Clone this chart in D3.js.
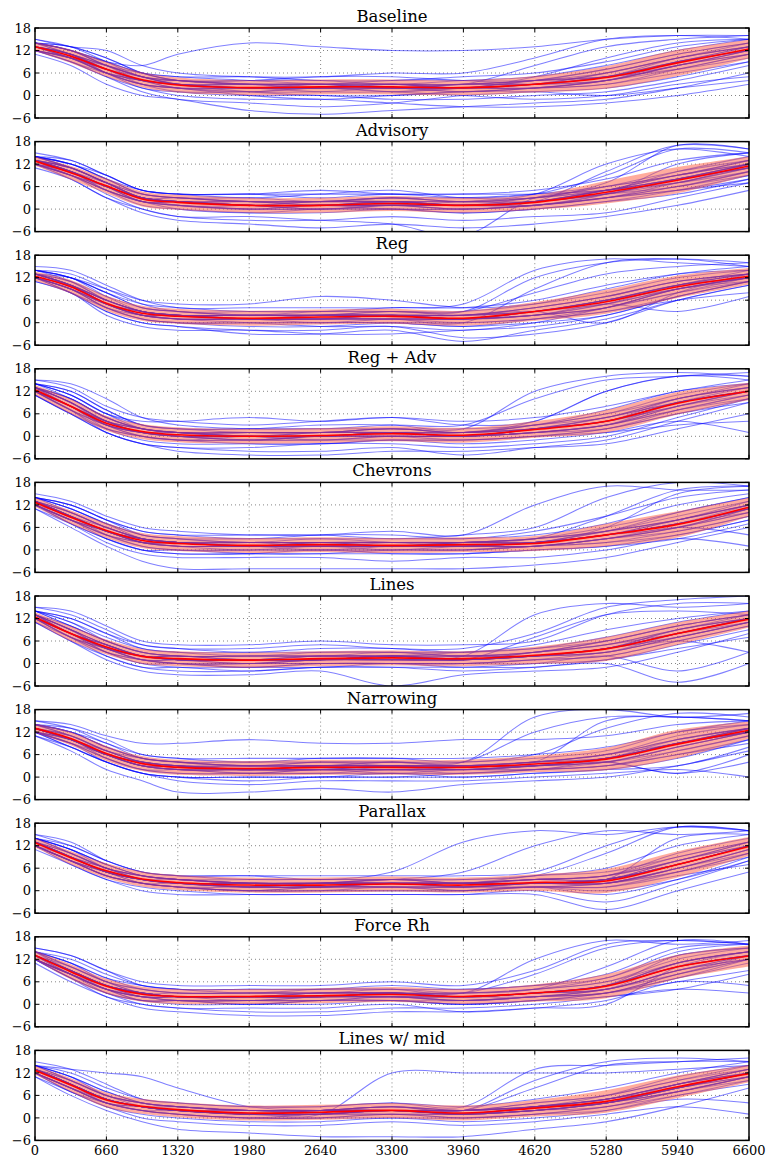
<!DOCTYPE html>
<html><head><meta charset="utf-8">
<script src="https://cdn.jsdelivr.net/npm/d3@7"></script>
<style>body{margin:0;background:#fff}</style>
</head><body>
<svg id="chart" width="767" height="1158"></svg>
<script>
// ---------- data ----------
const panelTitles = ["Baseline","Advisory","Reg","Reg + Adv","Chevrons","Lines","Narrowing","Parallax","Force Rh","Lines w/ mid"];
const xTicks = [0,660,1320,1980,2640,3300,3960,4620,5280,5940,6600];
const yTicks = [-6,0,6,12,18];
const sampleX = [0,330,660,990,1320,1980,2640,3300,3960,4620,5280,5940,6600];

const baselineMean = [13,10.5,7,4.2,2.8,2.1,2.3,2.3,2.1,3,4.8,8.7,12.4];
const baselineStd  = [1.2,1.8,2,2,2,2,2,2,2,2.2,3,3.5,2.5];
const baselineRuns = [
[13,11,7,4,3,2,2,2,2,3,5,9,12],[14,12,8,5,3,3,3,2,3,4,6,10,13],[12,10,6,3,2,1,1,2,1,2,4,8,12],
[14,13,10,6,4,3,3,3,3,4,7,11,14],[13,11,6,3,2,2,1,1,2,2,3,7,11],[14,12,9,8,11,14,13,12,12,13,15,16,16],
[12,9,5,1,-1,-2,-3,-2,0,1,2,5,9],[11,8,3,0,-1,-4,-5,-4,-3,-2,-1,2,6],[14,12,9,6,5,5,4,4,5,6,9,13,15],
[13,11,7,3,1,0,0,-1,-1,0,1,4,8],[15,13,9,5,4,4,4,3,4,5,8,12,15],[13,10,6,4,3,2,2,3,2,5,10,14,15],
[12,10,6,2,1,1,2,1,0,-1,0,3,5],[14,12,8,5,4,3,2,3,3,8,13,15,16],[13,11,8,5,4,3,3,4,4,3,4,8,11],
[12,10,6,3,2,0,-1,0,1,1,0,2,4],[14,12,9,6,4,4,5,5,4,4,5,9,13],[13,11,8,6,5,4,3,2,2,3,6,10,14],
[12,9,5,2,0,-1,-1,-2,-3,-3,-2,0,3],[14,13,10,6,4,3,3,3,3,4,5,7,10],
[13,11,7,4,3,3,3,3,2,3,4,8,12],[14,11,8,5,3,2,2,2,3,3,5,9,13],[12,10,7,4,2,2,3,2,2,2,4,8,11],
[13,10,6,4,3,2,2,2,2,3,6,10,13],[14,12,8,4,3,2,3,3,2,3,5,9,12],[13,10,7,5,3,3,2,2,2,4,5,8,12],
[12,9,6,4,2,1,2,2,1,2,4,7,11],[14,11,7,4,4,3,3,2,3,3,5,10,13],[15,13,12,8,6,5,5,6,6,10,15,16,15],
[13,11,6,3,2,2,2,3,2,2,3,6,9],[13,10,7,4,3,2,2,1,2,4,7,11,14],[12,10,8,5,3,1,0,0,1,2,4,9,12]];

const advisoryMean = [12.8,9.7,6.2,2.7,1.8,1,1,1.5,1,1.8,4.5,7.7,11.5];
const advisoryStd  = [1.2,1.8,2,2,2,2,2,2,2,2,3,3.5,2.5];
const advisoryRuns = [
[13,10,6,3,2,1,1,2,1,2,5,8,12],[14,12,8,4,3,2,2,3,2,3,6,10,13],[12,9,5,2,1,0,0,1,0,1,3,6,10],
[14,13,9,5,4,4,3,4,3,4,9,16,15],[13,10,5,1,0,-1,-1,0,-1,0,2,5,9],[11,8,3,0,-2,-3,-3,-2,-3,-2,-1,3,7],
[14,12,8,5,4,3,4,5,3,3,7,17,16],[13,11,7,3,3,2,2,2,2,2,4,8,12],[12,8,3,-1,-3,-4,-5,-4,-5,-4,-2,1,5],
[15,13,9,5,4,4,4,4,4,5,8,13,15],[13,10,6,3,2,1,2,2,1,3,5,8,11],[14,11,7,3,2,2,1,1,2,4,12,16,14],
[12,10,6,2,1,0,0,0,-1,0,2,4,8],[13,11,7,4,3,3,2,3,3,4,6,9,13],[12,9,4,0,-2,-2,-3,-4,-7,3,5,8,11],
[14,12,8,4,3,2,2,3,2,3,5,10,14],[13,10,6,3,2,1,0,1,1,1,3,6,9],[14,12,9,5,4,4,5,4,4,4,5,7,12],
[12,9,5,2,1,0,1,0,0,1,4,12,15],[13,11,7,3,2,1,1,1,0,1,3,5,7],
[13,10,6,3,2,1,1,1,1,2,4,8,11],[13,10,6,3,2,2,1,2,1,2,5,8,12],[14,11,7,3,2,1,1,2,1,2,4,7,11],
[12,9,6,2,2,1,1,1,1,1,4,8,12],[13,9,6,3,1,1,2,2,1,2,5,9,12],[13,10,7,4,3,2,2,2,2,2,5,7,10],
[12,9,5,2,1,0,1,1,0,1,3,7,11],[14,11,7,3,2,2,2,3,2,3,6,9,13],[13,10,6,3,2,1,1,2,1,2,10,17,16],
[12,10,6,2,2,1,0,1,1,2,4,6,10],[13,11,7,3,2,1,1,1,1,2,5,9,12],[13,10,5,2,0,-1,0,0,0,1,3,5,8]];

const regMean = [12.4,9.6,5.2,2.5,1.7,1.2,1.5,1.7,1.2,3,5.6,9.6,12.4];
const regStd  = [1.2,1.8,2,2,2,2,2,2,2,2.5,3.2,3,2.2];
const regRuns = [
[13,10,6,3,2,1,1,2,1,3,6,10,12],[14,12,8,4,3,2,2,3,2,4,7,11,13],[12,9,4,1,0,0,0,0,-1,1,4,9,12],
[13,12,9,6,5,5,7,6,4,5,8,12,14],[11,8,3,0,-1,-2,-2,-1,-4,-3,0,6,10],[14,12,7,3,2,2,2,3,3,12,16,17,16],
[13,10,5,2,1,0,-1,-1,-2,0,4,8,11],[15,14,10,6,4,4,4,4,5,14,17,16,15],[12,9,4,1,0,-1,-1,0,0,1,3,6,8],
[13,11,6,3,2,2,2,2,2,4,7,11,13],[12,8,3,0,-1,-3,-3,-2,-5,-2,1,6,10],[14,12,8,4,3,2,3,3,3,5,9,13,15],
[13,10,5,2,2,1,1,1,1,2,5,3,7],[14,13,9,5,3,3,3,3,3,8,13,15,16],[12,9,5,2,1,1,1,1,0,1,3,7,11],
[13,11,7,4,3,2,2,2,2,3,6,10,14],[11,8,2,-1,-2,-2,-3,-3,-2,-1,2,7,11],[14,12,8,5,4,3,3,4,4,6,10,13,14],
[13,10,5,2,1,1,0,1,1,2,4,9,12],[12,10,6,3,2,2,2,2,2,3,0,8,13],
[12,10,5,2,2,1,1,2,1,3,5,9,12],[13,10,5,3,2,1,2,2,1,3,6,10,13],[12,9,5,2,1,1,1,1,1,2,5,9,12],
[13,10,6,3,2,2,2,2,2,3,6,10,12],[12,9,5,3,2,1,1,2,1,2,5,10,13],[13,10,5,2,1,1,1,1,1,3,6,9,12],
[12,9,4,2,1,1,2,2,1,2,4,8,12],[14,11,6,3,2,2,2,2,2,4,7,11,13],[13,10,6,3,2,1,1,1,0,9,16,17,15],
[12,9,5,2,2,1,1,1,1,2,4,9,11],[13,10,6,3,2,2,2,2,2,3,6,10,13],[12,8,4,1,0,0,0,0,-1,0,2,7,11]];

const regAdvMean = [12.4,8,3.5,1.3,0.4,0,0.2,0.7,0.3,1.8,4,8.8,12];
const regAdvStd  = [1.3,2,2,2,2,2,2,2,2,2.2,3,3,2.3];
const regAdvRuns = [
[13,9,4,1,0,0,0,1,0,2,4,9,12],[14,11,6,3,2,1,1,2,1,3,6,11,14],[12,7,2,0,-1,-1,-1,-1,-1,0,2,7,11],
[15,13,8,5,4,3,4,5,3,4,12,16,15],[11,6,1,-2,-3,-4,-4,-3,-5,-3,-1,4,9],[14,12,7,3,2,2,3,3,2,12,16,17,16],
[13,9,4,1,0,-1,-1,0,0,1,3,8,12],[12,8,3,0,-1,-1,0,0,-1,0,1,3,4],[14,11,6,2,1,1,1,2,1,3,7,12,14],
[12,7,1,-2,-4,-5,-5,-4,-4,-3,-2,2,6],[13,10,5,2,1,1,1,1,1,2,5,10,13],[15,14,10,5,3,2,2,3,3,10,15,16,17],
[13,9,3,0,-1,0,0,0,0,1,3,7,10],[14,12,7,3,2,2,2,2,2,3,6,10,14],[12,8,2,-1,-2,-2,-2,-1,-2,-1,1,4,1],
[13,10,5,2,1,1,1,2,1,2,4,9,12],[14,11,6,4,4,5,4,5,4,5,8,12,15],[12,8,3,1,0,-1,0,0,0,1,2,6,9],
[13,10,5,2,1,0,0,1,0,2,5,9,12],[11,6,1,-2,-3,-3,-2,-2,-3,-2,0,5,10],
[12,8,4,1,0,0,0,1,0,2,4,9,12],[13,8,3,1,1,0,0,1,1,2,4,9,12],[12,8,4,2,1,0,1,1,0,2,4,8,12],
[13,9,4,1,0,0,0,0,0,1,3,9,13],[12,7,3,1,0,0,0,1,0,2,5,9,12],[13,8,4,2,1,1,1,1,1,2,4,8,11],
[12,8,3,1,0,-1,0,0,0,1,3,8,12],[14,10,5,2,1,1,1,2,1,3,5,10,13],[13,9,4,2,1,0,1,1,1,4,12,16,16],
[12,7,3,1,0,0,-1,0,0,1,3,7,11],[13,9,4,1,1,0,0,1,0,2,4,10,13],[11,6,2,0,-1,-2,-2,-1,-1,0,2,6,10]];

const chevronsMean = [12.7,8.7,5.2,2.5,1.7,1.2,1.4,1.2,1.4,1.7,4,6.8,11.4];
const chevronsStd  = [1.2,1.8,2,2,2,2,2,2,2,2,3,3.5,2.5];
const chevronsRuns = [
[13,9,5,2,2,1,1,1,1,2,4,7,11],[14,11,7,4,3,2,3,2,2,3,6,10,14],[12,8,4,1,0,0,0,0,0,1,2,5,9],
[14,12,8,5,4,4,4,3,4,6,14,18,17],[11,6,1,-3,-5,-5,-5,-5,-5,-4,-2,2,6],[13,10,6,3,2,2,2,2,2,3,5,8,12],
[12,8,3,0,-1,-1,-1,-1,-1,0,1,4,8],[15,13,9,6,5,4,4,5,4,12,17,16,16],[13,9,5,2,1,1,0,1,1,1,3,6,10],
[14,11,7,4,3,3,3,3,3,4,7,12,15],[12,7,2,-1,-2,-2,-2,-3,-2,-2,0,3,1],[13,10,6,3,2,1,2,1,2,2,5,9,13],
[14,12,8,5,4,3,4,4,3,5,9,14,16],[12,9,4,1,0,0,0,0,0,1,3,6,4],[13,9,5,2,1,1,1,1,2,2,4,7,11],
[14,11,7,3,2,1,2,2,2,2,6,15,17],[11,7,3,0,-1,-1,0,-1,-1,0,1,3,7],[13,10,6,3,2,2,2,2,1,2,4,8,12],
[12,8,4,2,1,0,1,0,1,1,3,5,9],[14,12,8,4,3,2,2,2,2,3,5,10,14],
[13,9,5,2,2,1,1,1,1,2,4,7,11],[13,9,5,3,2,1,1,1,2,2,4,7,12],[12,8,5,2,1,1,1,1,1,1,3,6,11],
[13,9,5,3,2,1,2,1,1,2,4,7,11],[12,8,5,2,2,2,1,1,1,2,5,8,12],[13,9,6,3,2,1,1,2,2,2,4,6,10],
[12,8,4,2,1,1,1,1,1,1,3,6,11],[14,10,6,3,2,2,2,2,2,3,5,8,13],[13,9,5,3,2,1,2,1,2,3,9,16,17],
[12,8,5,2,2,1,1,1,1,2,4,7,10],[13,9,5,3,2,1,1,1,1,2,4,8,12],[12,7,3,0,0,-1,-1,0,0,1,2,4,8]];

const linesMean = [12.4,8,4.4,1.9,1.3,0.9,1.3,1.5,1.3,2.2,3.9,8,11.8];
const linesStd  = [1.3,2,2,2,2,2,2,2,2,2.3,3.2,3,2.2];
const linesRuns = [
[13,9,5,2,1,1,1,2,1,2,4,8,12],[14,11,7,4,3,2,3,3,2,3,6,10,13],[12,7,3,0,0,-1,0,0,0,1,2,6,10],
[15,13,9,5,4,4,5,4,4,8,15,17,18],[11,6,1,-2,-3,-3,-2,-6,-3,-2,-1,3,8],[13,10,6,3,2,2,2,2,2,13,16,15,16],
[12,8,4,1,0,0,0,0,0,0,2,-2,3],[14,12,8,5,4,3,4,4,3,5,9,12,14],[13,8,4,1,0,0,1,1,1,2,3,7,11],
[11,6,2,-1,-2,-2,-1,-1,-1,-1,0,-5,0],[14,11,6,3,2,2,2,3,2,3,6,10,13],[13,9,5,2,1,1,1,1,1,2,4,8,12],
[12,8,3,0,-1,-1,-1,0,-1,0,1,5,9],[15,14,10,6,5,5,6,5,5,6,13,16,16],[13,9,4,2,1,1,1,2,1,3,5,9,12],
[12,7,2,-1,-1,-2,-1,-1,-2,-1,1,4,7],[14,12,8,4,3,3,3,3,3,4,7,11,14],[13,9,5,2,2,1,2,2,2,2,4,7,11],
[12,8,3,1,0,0,0,0,0,1,3,6,3],[14,10,6,3,2,2,2,2,3,4,6,10,13],
[12,8,4,2,1,1,1,2,1,2,4,8,12],[13,8,4,2,1,1,1,1,1,2,4,8,12],[12,8,5,2,2,1,1,2,1,2,4,7,11],
[13,9,4,2,1,1,2,1,2,2,3,8,12],[12,7,4,2,1,0,1,1,1,2,4,9,12],[13,8,5,2,1,1,1,2,1,3,5,8,11],
[12,8,4,1,1,1,1,1,1,2,3,7,11],[14,10,6,3,2,2,2,2,2,3,5,9,13],[13,9,5,2,1,1,1,2,1,7,13,14,13],
[12,7,4,1,1,0,1,1,1,2,4,8,12],[13,8,5,2,2,1,2,2,2,2,4,9,12],[11,7,3,1,0,-1,0,0,0,1,2,6,10]];

const narrowingMean = [13,10.3,6.3,3.6,2.6,2.3,2.6,2.6,2.6,3.5,4.8,8.8,12.5];
const narrowingStd  = [1.2,1.8,2,2,2,2,2,2,2,2.2,3,3.8,2.3];
const narrowingRuns = [
[13,10,6,4,3,2,3,3,3,3,5,9,12],[14,12,8,5,4,3,3,4,3,4,6,11,14],[12,9,5,2,1,1,1,1,1,2,3,7,11],
[15,14,11,9,9,10,9,9,10,10,11,14,15],[11,7,2,-1,-4,-4,-3,-4,-2,-1,0,3,7],[14,12,8,5,4,3,4,4,4,16,18,16,17],
[13,10,6,3,2,2,2,2,2,3,4,1,4],[12,9,4,1,0,0,0,1,0,1,2,3,8],[14,13,10,6,5,4,5,5,4,6,13,17,16],
[13,10,6,3,2,2,2,2,2,3,5,10,13],[12,8,4,1,-1,-2,-1,-1,-1,0,1,2,0],[15,13,9,6,5,5,5,5,5,6,8,12,15],
[13,11,7,4,3,2,3,3,3,4,6,9,13],[12,9,5,2,1,1,2,2,1,2,4,8,12],[14,12,8,5,4,4,4,4,4,5,7,12,14],
[13,10,6,3,2,1,1,2,2,2,3,6,9],[11,8,4,1,0,-1,0,0,0,1,2,5,10],[14,12,9,5,4,3,4,3,3,4,15,16,15],
[13,10,6,3,3,2,2,3,2,3,5,9,13],[12,10,5,2,2,1,2,1,2,2,4,1,6],
[13,10,6,4,3,2,3,3,3,3,5,9,12],[13,10,6,4,3,3,3,2,3,4,5,9,13],[12,10,6,3,3,2,2,3,2,3,4,8,12],
[13,11,7,4,3,2,3,3,3,4,5,9,12],[13,10,6,3,2,2,2,3,2,3,5,9,13],[14,11,7,4,3,3,3,3,3,4,6,10,13],
[12,9,6,3,2,2,2,2,2,3,4,8,12],[13,10,6,4,3,2,3,3,3,3,5,9,12],[14,11,7,5,4,3,3,4,4,12,16,16,15],
[12,10,6,3,2,2,2,2,2,3,4,7,11],[13,10,7,4,3,3,3,3,3,4,6,10,13],[12,8,4,1,0,0,0,0,1,2,3,6,10]];

const parallaxMean = [12.8,8.8,5.3,3.1,2.2,1.5,1.5,1.8,1.5,2.2,2.6,7,11.8];
const parallaxStd  = [1.2,1.8,2,2,2,2,2,2,2,2.2,3.2,3.5,2.5];
const parallaxRuns = [
[13,9,5,3,2,1,1,2,1,2,3,7,12],[14,11,7,4,3,2,2,3,2,3,4,9,13],[12,8,4,2,1,0,0,1,0,1,1,5,10],
[15,13,8,5,4,4,3,5,13,16,15,17,16],[12,7,3,0,-1,-1,-1,-1,-1,0,-3,2,8],[13,10,6,4,3,3,3,3,3,4,10,17,16],
[12,8,4,2,1,0,0,0,0,1,0,3,8],[14,12,8,5,4,3,3,3,3,4,6,12,15],[13,9,5,3,2,1,1,2,1,2,2,6,11],
[11,7,3,1,0,-1,-1,-1,-1,-1,-5,0,5],[14,11,6,4,3,2,2,2,2,3,4,10,14],[13,9,5,3,2,2,2,2,2,3,3,8,12],
[12,8,4,2,1,0,1,1,1,1,2,6,10],[15,12,8,5,4,4,4,4,4,5,12,17,16],[13,9,5,3,2,2,1,2,2,2,3,7,12],
[14,11,7,4,3,2,2,3,2,3,4,8,13],[12,8,4,2,1,1,1,1,0,1,1,4,7],[13,10,6,3,2,1,2,2,2,2,3,14,15],
[12,9,5,2,1,0,1,1,1,1,2,5,9],[14,10,6,4,3,2,2,3,2,4,5,9,13],
[13,9,5,3,2,2,2,2,2,2,3,7,12],[13,9,5,3,2,1,1,2,1,2,3,7,12],[12,8,5,3,2,1,2,2,1,2,2,6,11],
[13,9,6,3,2,2,1,2,2,2,3,7,12],[13,9,5,3,3,2,2,2,2,3,3,8,12],[14,10,6,4,3,2,2,2,2,3,4,8,13],
[12,8,5,3,2,1,1,1,1,2,2,6,11],[13,9,5,3,2,1,2,2,2,2,3,7,12],[14,11,7,4,3,2,2,3,5,12,16,15,16],
[12,8,5,2,2,1,1,1,1,2,2,5,10],[13,9,6,3,2,2,2,2,2,2,3,7,12],[12,8,4,2,1,0,0,0,0,1,-1,3,9]];

const forceRhMean = [13.1,8.7,4.8,2.7,2.1,2.1,2.3,2.6,2.1,3,4.8,10,12.9];
const forceRhStd  = [1.2,2,2,2,2,2,2,2,2,2.3,3.2,3.2,2.8];
const forceRhRuns = [
[13,9,5,3,2,2,2,3,2,3,5,10,13],[14,11,7,4,3,3,3,4,3,4,7,13,15],[12,8,4,1,1,1,1,1,1,2,3,8,12],
[15,13,9,6,5,5,5,6,5,9,16,17,16],[12,7,2,0,-1,-2,-2,-1,-1,0,2,4,3],[14,10,6,4,3,3,3,3,3,4,10,17,16],
[13,8,4,2,1,1,1,2,1,2,3,8,13],[12,7,3,0,-1,-1,-1,0,-2,-1,1,6,5],[14,11,7,5,4,4,4,5,4,5,7,14,16],
[13,9,5,2,2,2,2,2,2,3,5,11,14],[11,6,2,-1,-2,-3,-3,-2,-2,-1,0,10,14],[15,13,9,5,4,3,4,4,3,12,17,16,17],
[13,9,4,2,1,1,2,2,1,2,4,9,13],[14,11,6,4,3,3,3,3,3,4,6,12,15],[12,8,4,2,1,1,1,2,1,2,3,6,9],
[13,10,6,3,2,2,3,3,2,3,5,13,15],[12,8,3,1,0,0,0,1,0,1,2,4,8],[14,12,8,5,4,4,4,4,4,5,8,15,16],
[13,9,5,3,2,2,2,3,2,3,4,11,14],[12,8,4,1,1,0,1,1,0,1,3,7,12],
[13,9,5,3,2,2,2,3,2,3,5,10,13],[13,9,5,3,2,2,2,2,2,3,5,10,13],[12,8,5,3,2,2,2,3,2,3,4,9,12],
[13,9,5,2,2,2,3,3,2,3,5,10,13],[14,9,5,3,2,2,2,3,2,3,5,11,14],[13,8,4,3,2,2,2,2,2,3,4,9,12],
[12,8,4,2,2,1,2,2,2,2,4,9,13],[14,10,6,3,3,3,3,3,3,4,6,11,14],[13,9,5,3,2,2,3,3,3,8,15,17,16],
[12,8,4,2,2,2,2,2,1,2,4,8,12],[13,9,5,3,2,2,2,3,2,3,5,11,14],[12,7,3,1,1,0,1,1,0,1,3,7,11]];

const linesMidMean = [12.7,8.8,4.8,3.1,2.2,1.3,1.5,2,1.3,2.6,4.4,8.3,11.8];
const linesMidStd  = [1.2,1.8,2,2,2,2,2,2,2,2.2,3,3,2.3];
const linesMidRuns = [
[13,9,5,3,2,1,1,2,1,3,4,8,12],[14,11,7,4,3,2,2,3,2,4,6,10,13],[12,8,4,2,1,0,0,1,0,1,3,7,11],
[13,9,5,3,2,1,1,12,12,12,12,13,14],[14,13,12,11,8,3,2,2,2,3,5,9,13],[11,6,2,-1,-3,-4,-5,-5,-5,-3,-1,3,8],
[13,10,6,4,3,2,2,3,2,10,15,16,15],[12,8,4,2,1,0,0,0,0,1,2,5,4],[14,12,8,5,4,3,3,4,3,5,8,12,15],
[13,9,5,3,2,1,2,2,1,2,4,8,12],[11,7,3,0,-1,-2,-2,-1,-2,-1,1,3,1],[14,11,6,4,3,2,2,3,2,4,6,10,14],
[13,9,5,3,2,1,1,2,1,2,4,8,11],[12,8,4,2,1,0,1,1,1,2,3,7,10],[15,13,9,5,4,3,3,4,3,13,14,15,16],
[13,9,5,3,2,2,1,2,2,3,5,9,12],[12,7,3,1,0,-1,-1,0,-1,0,2,6,9],[14,11,7,4,3,2,2,3,2,3,6,11,14],
[13,10,6,3,2,1,2,2,1,2,4,7,11],[13,9,5,3,3,2,2,2,2,3,5,9,13],
[13,9,5,3,2,1,1,2,1,3,4,8,12],[13,9,5,3,2,1,2,2,1,3,5,8,12],[12,8,5,3,2,1,1,2,1,2,4,8,11],
[13,9,5,3,2,2,2,2,2,3,4,9,12],[13,9,4,3,2,1,1,2,1,2,4,8,12],[14,10,6,4,3,2,2,2,2,3,5,9,13],
[12,8,4,3,2,1,1,1,1,2,4,7,11],[13,9,5,3,2,1,2,2,1,3,5,8,12],[14,10,6,4,3,2,2,3,2,8,14,15,15],
[12,8,4,2,2,1,1,2,1,2,4,7,11],[13,9,5,3,2,1,1,2,1,3,5,9,12],[12,7,4,2,1,0,0,1,0,1,3,6,10]];

const panels = [
  {title: panelTitles[0], mean: baselineMean, std: baselineStd, runs: baselineRuns},
  {title: panelTitles[1], mean: advisoryMean, std: advisoryStd, runs: advisoryRuns},
  {title: panelTitles[2], mean: regMean, std: regStd, runs: regRuns},
  {title: panelTitles[3], mean: regAdvMean, std: regAdvStd, runs: regAdvRuns},
  {title: panelTitles[4], mean: chevronsMean, std: chevronsStd, runs: chevronsRuns},
  {title: panelTitles[5], mean: linesMean, std: linesStd, runs: linesRuns},
  {title: panelTitles[6], mean: narrowingMean, std: narrowingStd, runs: narrowingRuns},
  {title: panelTitles[7], mean: parallaxMean, std: parallaxStd, runs: parallaxRuns},
  {title: panelTitles[8], mean: forceRhMean, std: forceRhStd, runs: forceRhRuns},
  {title: panelTitles[9], mean: linesMidMean, std: linesMidStd, runs: linesMidRuns}
];

// ---------- drawing ----------
const svg = d3.select("#chart");
const left = 35, right = 749, top0 = 28, pitch = 113.6, ph = 90;
const font = "'DejaVu Serif', 'Liberation Serif', serif";
const x = d3.scaleLinear().domain([0, 6600]).range([left, right]);
const curve = d3.curveCatmullRom.alpha(0.5);
const fmt = d => (d < 0 ? "\u2212" + Math.abs(d) : String(d));

panels.forEach((p, i) => {
  const top = top0 + i * pitch;
  const y = d3.scaleLinear().domain([-6, 18]).range([top + ph, top]);
  const g = svg.append("g");
  const clipId = "clip" + i;
  svg.append("clipPath").attr("id", clipId).append("rect")
    .attr("x", left).attr("y", top).attr("width", right - left).attr("height", ph);

  // title
  g.append("text").attr("x", (left + right) / 2).attr("y", top - 6)
    .attr("text-anchor", "middle").attr("font-family", font).attr("font-size", 16.5)
    .attr("fill", "#000").text(p.title);

  // grid
  const grid = g.append("g").attr("stroke", "#000").attr("stroke-width", 0.6)
    .attr("stroke-dasharray", "1,3").attr("opacity", 0.8);
  xTicks.slice(1, -1).forEach(t => grid.append("line")
    .attr("x1", x(t)).attr("x2", x(t)).attr("y1", top).attr("y2", top + ph));
  yTicks.slice(1, -1).forEach(t => grid.append("line")
    .attr("x1", left).attr("x2", right).attr("y1", y(t)).attr("y2", y(t)));

  const plot = g.append("g").attr("clip-path", `url(#${clipId})`);
  const line = d3.line().x((d, k) => x(sampleX[k])).y(d => y(d)).curve(curve);

  // individual runs
  plot.selectAll("path.run").data(p.runs).join("path").attr("class", "run")
    .attr("d", line).attr("fill", "none").attr("stroke", "#0000ff")
    .attr("stroke-width", 1.05).attr("stroke-opacity", 0.5);

  // band mean ± std
  const area = d3.area().x((d, k) => x(sampleX[k]))
    .y0((d, k) => y(d - p.std[k])).y1((d, k) => y(d + p.std[k])).curve(curve);
  plot.append("path").attr("d", area(p.mean)).attr("fill", "#ff5a3c").attr("fill-opacity", 0.5);

  // mean
  plot.append("path").attr("d", line(p.mean)).attr("fill", "none")
    .attr("stroke", "#ff0000").attr("stroke-width", 1.6);

  // frame
  g.append("rect").attr("x", left).attr("y", top).attr("width", right - left).attr("height", ph)
    .attr("fill", "none").attr("stroke", "#000").attr("stroke-width", 1.5);

  // ticks (inward, all sides)
  const tk = g.append("g").attr("stroke", "#000").attr("stroke-width", 1);
  xTicks.forEach(t => {
    tk.append("line").attr("x1", x(t)).attr("x2", x(t)).attr("y1", top + ph).attr("y2", top + ph - 4);
    tk.append("line").attr("x1", x(t)).attr("x2", x(t)).attr("y1", top).attr("y2", top + 4);
  });
  yTicks.forEach(t => {
    tk.append("line").attr("x1", left).attr("x2", left + 4).attr("y1", y(t)).attr("y2", y(t));
    tk.append("line").attr("x1", right).attr("x2", right - 4).attr("y1", y(t)).attr("y2", y(t));
  });

  // y tick labels
  g.selectAll("text.yl").data(yTicks).join("text").attr("class", "yl")
    .attr("x", left - 4).attr("y", d => y(d)).attr("dy", "0.36em")
    .attr("text-anchor", "end").attr("font-family", font).attr("font-size", 13)
    .text(fmt);

  // x tick labels on last panel
  if (i === panels.length - 1) {
    g.selectAll("text.xl").data(xTicks).join("text").attr("class", "xl")
      .attr("x", d => x(d)).attr("y", top + ph + 15)
      .attr("text-anchor", "middle").attr("font-family", font).attr("font-size", 13)
      .text(fmt);
  }
});
</script>
</body></html>
